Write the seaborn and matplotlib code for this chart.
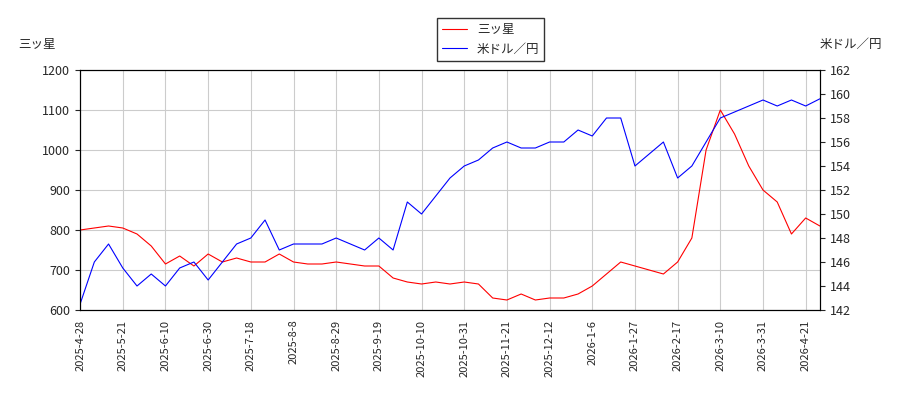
import matplotlib
matplotlib.use("Agg")
from matplotlib import pyplot as plt
import numpy as np
import pandas as pd
import seaborn as sns

sns.set_style("white")
plt.rcParams['font.family'] = ['Noto Sans CJK JP', 'DejaVu Sans']

# weekly samples, x position counted in trading days (5 per week)
day_pos = list(range(0, 265, 5))
mitsuboshi = [800, 805, 810, 805, 790, 760, 715, 735, 710, 740, 720, 730, 720, 720, 740, 720,
              715, 715, 720, 715, 710, 710, 680, 670, 665, 670, 665, 670, 665, 630, 625, 640,
              625, 630, 630, 640, 660, 690, 720, 710, 700, 690, 720, 780, 1000, 1100, 1040, 960,
              900, 870, 790, 830, 810]
usdjpy = [142.5, 146, 147.5, 145.5, 144, 145, 144, 145.5, 146, 144.5, 146, 147.5, 148, 149.5,
          147, 147.5, 147.5, 147.5, 148, 147.5, 147, 148, 147, 151, 150, 151.5, 153, 154, 154.5,
          155.5, 156, 155.5, 155.5, 156, 156, 157, 156.5, 158, 158, 154, 155, 156, 153, 154,
          156, 158, 158.5, 159, 159.5, 159, 159.5, 159, 159.6]
tick_labels = ["2025-4-28", "2025-5-21", "2025-6-10", "2025-6-30", "2025-7-18", "2025-8-8",
               "2025-8-29", "2025-9-19", "2025-10-10", "2025-10-31", "2025-11-21", "2025-12-12",
               "2026-1-6", "2026-1-27", "2026-2-17", "2026-3-10", "2026-3-31", "2026-4-21"]
tick_pos = [15 * i for i in range(len(tick_labels))]

df = pd.DataFrame({"x": day_pos, "m": mitsuboshi, "u": usdjpy})

fig = plt.figure(figsize=(9, 4), dpi=100)
ax = fig.add_axes([0.089, 0.225, 0.822, 0.6])
ax2 = ax.twinx()
sns.lineplot(data=df, x="x", y="m", ax=ax, color="red", linewidth=0.8, label="三ッ星", legend=False)
sns.lineplot(data=df, x="x", y="u", ax=ax2, color="blue", linewidth=0.8, label="米ドル／円", legend=False)

ax.set_ylim(600, 1200)
ax2.set_ylim(142, 162)
ax2.set_yticks(range(142, 163, 2))
ax.set_xlim(0, 260)
ax.set_xticks(tick_pos)
ax.set_xticklabels(tick_labels, rotation=90, fontsize=8)
ax.tick_params(axis="y", labelsize=9)
ax2.tick_params(axis="y", labelsize=9)
ax.set_xlabel("")
ax.set_ylabel("")
ax2.set_ylabel("")
ax.grid(True, color="#cccccc", linewidth=0.8)
for a in (ax, ax2):
    for s in a.spines.values():
        s.set_color("black")

fig.text(0.02, 0.88, "三ッ星", fontsize=9)
fig.text(0.98, 0.88, "米ドル／円", fontsize=9, ha="right")
h1, l1 = ax.get_legend_handles_labels()
h2, l2 = ax2.get_legend_handles_labels()
fig.legend(h1 + h2, l1 + l2, loc="upper center", bbox_to_anchor=(0.545, 0.97),
           fontsize=9, edgecolor="black", fancybox=False)

fig.savefig("out.png")
